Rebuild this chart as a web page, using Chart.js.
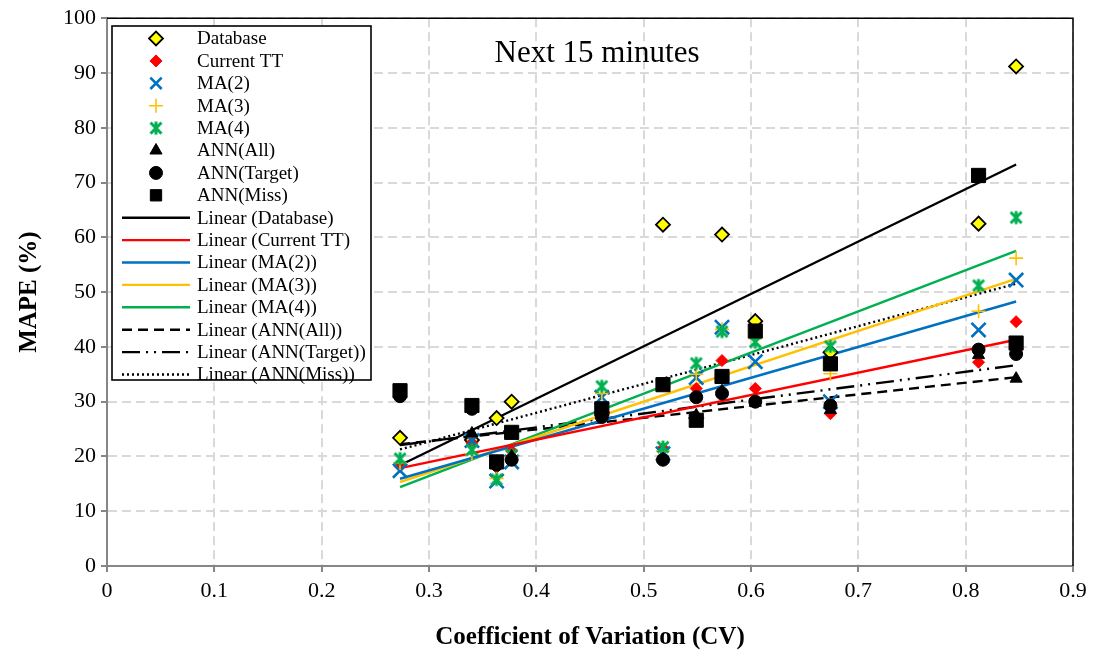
<!DOCTYPE html>
<html>
<head>
<meta charset="utf-8">
<script src="https://cdn.jsdelivr.net/npm/chart.js@4.4.1/dist/chart.umd.min.js"></script>
<style>
  html, body { margin: 0; padding: 0; background: #fff; }
  #wrap { width: 1100px; height: 653px; }
</style>
</head>
<body>
<div id="wrap"><canvas id="cvChart" width="1100" height="653"></canvas></div>
<script>
// coefficient of variation of the 12 links
var cv = [0.273, 0.340, 0.363, 0.377, 0.461, 0.518, 0.549, 0.573, 0.604, 0.674, 0.812, 0.847];

// MAPE (%) of each predictor, next 15 minutes
var mapeDatabase  = [23.4, 23.0, 27.0, 30.0, 28.0, 62.3, 27.0, 60.5, 44.7, 39.0, 62.5, 91.2];
var mapeCurrentTT = [18.2, 22.5, 18.0, 21.0, 28.5, 21.5, 32.4, 37.5, 32.4, 27.8, 37.2, 44.6];
var mapeMA2       = [17.4, 22.9, 15.5, 19.0, 30.8, 20.5, 34.4, 43.6, 37.3, 30.0, 43.1, 52.2];
var mapeMA3       = [18.8, 20.5, 16.0, 20.0, 31.5, 21.0, 35.0, 43.2, 41.5, 35.1, 46.5, 56.2];
var mapeMA4       = [19.6, 21.2, 15.8, 20.3, 32.8, 21.7, 37.0, 42.8, 40.9, 40.1, 51.2, 63.6];
var mapeAnnAll    = [32.0, 24.2, 19.0, 20.0, 28.0, 19.5, 27.5, 31.9, 29.8, 28.5, 38.5, 34.2];
var mapeAnnTarget = [31.0, 28.7, 18.5, 19.4, 27.2, 19.4, 30.8, 31.5, 30.0, 29.3, 39.5, 38.7];
var mapeAnnMiss   = [32.0, 29.3, 19.0, 24.4, 28.7, 33.1, 26.6, 34.6, 42.9, 36.9, 71.3, 40.7];

var xTicks = [0, 0.1, 0.2, 0.3, 0.4, 0.5, 0.6, 0.7, 0.8, 0.9];
var yTicks = [0, 10, 20, 30, 40, 50, 60, 70, 80, 90, 100];

var SERIF = '"Liberation Serif", "Times New Roman", serif';

function toPoints(xs, ys) {
    return xs.map(function (x, i) { return { x: x, y: ys[i] }; });
}

// least squares trend, drawn over the range of the data
function trendLine(xs, ys) {
    var n = xs.length, mx = 0, my = 0, sxy = 0, sxx = 0;
    for (var i = 0; i < n; i++) { mx += xs[i]; my += ys[i]; }
    mx /= n; my /= n;
    for (var i = 0; i < n; i++) {
        sxy += (xs[i] - mx) * (ys[i] - my);
        sxx += (xs[i] - mx) * (xs[i] - mx);
    }
    var b = sxy / sxx, a = my - b * mx;
    var x0 = Math.min.apply(null, xs), x1 = Math.max.apply(null, xs);
    return [{ x: x0, y: a + b * x0 }, { x: x1, y: a + b * x1 }];
}

// green "star" marker: a heavy X with a vertical stroke
function starMarker(color) {
    var c = document.createElement('canvas');
    c.width = 16; c.height = 16;
    var g = c.getContext('2d');
    g.strokeStyle = color;
    g.lineWidth = 3;
    g.beginPath();
    g.moveTo(2.5, 2.5); g.lineTo(13.5, 13.5);
    g.moveTo(13.5, 2.5); g.lineTo(2.5, 13.5);
    g.moveTo(8, 1.5); g.lineTo(8, 14.5);
    g.stroke();
    return c;
}

var series = [
    { label: 'Database',    data: mapeDatabase,  style: 'rectRot',  r: 7,  fill: '#ffff00', stroke: '#000000', bw: 1.8, line: '#000000', dash: [] },
    { label: 'Current TT',  data: mapeCurrentTT, style: 'rectRot',  r: 6,  fill: '#ff0000', stroke: '#ff0000', bw: 1,   line: '#ff0000', dash: [] },
    { label: 'MA(2)',       data: mapeMA2,       style: 'crossRot', r: 10, fill: '#0070c0', stroke: '#0070c0', bw: 2.6, line: '#0070c0', dash: [] },
    { label: 'MA(3)',       data: mapeMA3,       style: 'cross',    r: 7,  fill: '#ffc000', stroke: '#ffc000', bw: 1.6, line: '#ffc000', dash: [] },
    { label: 'MA(4)',       data: mapeMA4,       style: starMarker('#00b050'), r: 7, fill: '#00b050', stroke: '#00b050', bw: 1, line: '#00b050', dash: [] },
    { label: 'ANN(All)',    data: mapeAnnAll,    style: 'triangle', r: 7,  fill: '#000000', stroke: '#000000', bw: 1,   line: '#000000', dash: [10, 6] },
    { label: 'ANN(Target)', data: mapeAnnTarget, style: 'circle',   r: 6.5, fill: '#000000', stroke: '#000000', bw: 1,  line: '#000000', dash: [18, 6, 2, 6, 2, 6] },
    { label: 'ANN(Miss)',   data: mapeAnnMiss,   style: 'rect',     r: 10, fill: '#000000', stroke: '#000000', bw: 1,   line: '#000000', dash: [2, 3] }
];

var datasets = [];
series.forEach(function (s, i) {
    datasets.push({
        type: 'scatter',
        label: s.label,
        data: toPoints(cv, s.data),
        pointStyle: s.style,
        pointRadius: s.r,
        pointHoverRadius: s.r,
        pointBackgroundColor: s.fill,
        pointBorderColor: s.stroke,
        pointBorderWidth: s.bw,
        order: 8 - i
    });
});
series.forEach(function (s) {
    datasets.push({
        type: 'line',
        label: 'Linear (' + s.label + ')',
        data: trendLine(cv, s.data),
        borderColor: s.line,
        borderWidth: 2.4,
        borderDash: s.dash,
        pointRadius: 0,
        fill: false,
        order: 20
    });
});

// boxed legend in the upper left of the plot
var legendBox = {
    id: 'legendBox',
    afterDraw: function (chart) {
        var ctx = chart.ctx;
        var left = 112, top = 26, w = 259, h = 354;
        ctx.save();
        ctx.fillStyle = '#ffffff';
        ctx.fillRect(left, top, w, h);
        ctx.strokeStyle = '#000000';
        ctx.lineWidth = 1.6;
        ctx.strokeRect(left, top, w, h);
        ctx.font = '19px ' + SERIF;
        ctx.textBaseline = 'middle';
        ctx.textAlign = 'left';
        chart.data.datasets.forEach(function (ds, i) {
            var y = 38.5 + i * 22.4;
            if (ds.type === 'line') {
                ctx.save();
                ctx.strokeStyle = ds.borderColor;
                ctx.lineWidth = ds.borderWidth;
                ctx.setLineDash(ds.borderDash);
                ctx.beginPath();
                ctx.moveTo(122, y);
                ctx.lineTo(190, y);
                ctx.stroke();
                ctx.restore();
            } else {
                ctx.save();
                ctx.fillStyle = ds.pointBackgroundColor;
                ctx.strokeStyle = ds.pointBorderColor;
                ctx.lineWidth = ds.pointBorderWidth;
                var r = ds.pointRadius;
                if (ds.pointStyle === 'rect') r = 8;
                if (ds.pointStyle === 'crossRot') r = 8;
                Chart.helpers.drawPoint(ctx, { pointStyle: ds.pointStyle, radius: r, borderWidth: ds.pointBorderWidth, rotation: 0 }, 156, y);
                ctx.restore();
            }
            ctx.fillStyle = '#000000';
            ctx.fillText(ds.label, 197, y + 1);
        });
        ctx.restore();
    }
};

// chart heading inside the plot, and the dark top/right frame
var frameAndHeading = {
    id: 'frameAndHeading',
    afterDraw: function (chart) {
        var ctx = chart.ctx, a = chart.chartArea;
        ctx.save();
        ctx.strokeStyle = '#000000';
        ctx.lineWidth = 1.5;
        ctx.beginPath();
        ctx.moveTo(a.left, a.top);
        ctx.lineTo(a.right, a.top);
        ctx.lineTo(a.right, a.bottom);
        ctx.stroke();
        ctx.fillStyle = '#000000';
        ctx.font = '31px ' + SERIF;
        ctx.textAlign = 'center';
        ctx.textBaseline = 'alphabetic';
        ctx.fillText('Next 15 minutes', 597, 62);
        ctx.restore();
    }
};

var gridStyle = {
    color: '#d9d9d9',
    lineWidth: 2,
    drawTicks: true,
    tickLength: 6,
    tickColor: '#868686',
    tickWidth: 2,
    tickBorderDash: []
};

var ctx = document.getElementById('cvChart');
var chart = new Chart(ctx, {
    type: 'scatter',
    data: { datasets: datasets },
    plugins: [legendBox, frameAndHeading],
    options: {
        responsive: false,
        animation: false,
        devicePixelRatio: 1,
        layout: { padding: { top: 18, right: 27, left: 0, bottom: 0 } },
        plugins: {
            legend: { display: false },
            tooltip: { enabled: false }
        },
        scales: {
            x: {
                type: 'linear',
                min: 0,
                max: 0.9,
                afterBuildTicks: function (s) { s.ticks = xTicks.map(function (v) { return { value: v }; }); },
                afterFit: function (s) { s.height = 87; },
                ticks: {
                    color: '#000000',
                    font: { family: SERIF, size: 22 },
                    padding: 6,
                    maxRotation: 0,
                    callback: function (v) { return String(Number(v.toFixed(1))); }
                },
                grid: gridStyle,
                border: { display: true, color: '#868686', width: 2, dash: [9, 5] },
                title: {
                    display: true,
                    text: 'Coefficient of Variation (CV)',
                    color: '#000000',
                    font: { family: SERIF, size: 25, weight: 'bold' },
                    padding: { top: 6, bottom: 0 }
                }
            },
            y: {
                type: 'linear',
                min: 0,
                max: 100,
                afterBuildTicks: function (s) { s.ticks = yTicks.map(function (v) { return { value: v }; }); },
                afterFit: function (s) { s.width = 107; },
                ticks: {
                    color: '#000000',
                    font: { family: SERIF, size: 22 },
                    padding: 5
                },
                grid: gridStyle,
                border: { display: true, color: '#868686', width: 2, dash: [9, 5] },
                title: {
                    display: true,
                    text: 'MAPE (%)',
                    color: '#000000',
                    font: { family: SERIF, size: 25, weight: 'bold' },
                    padding: { top: 15, bottom: 4 }
                }
            }
        }
    }
});
</script>
</body>
</html>
